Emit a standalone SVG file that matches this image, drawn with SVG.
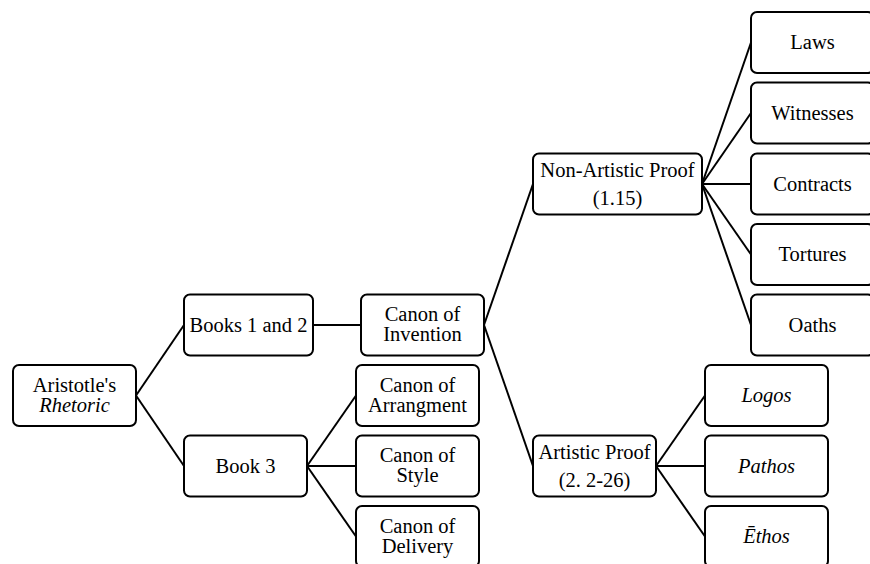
<svg xmlns="http://www.w3.org/2000/svg" width="870" height="564" viewBox="0 0 870 564">
<style>
rect.n{fill:#fff;stroke:#000;stroke-width:2}
#connectors line{stroke:#000;stroke-width:2}
</style>
<rect width="870" height="564" fill="#fff"/>
<g id="connectors">
<line x1="136" y1="395.5" x2="184" y2="325"/>
<line x1="136" y1="395.5" x2="184" y2="466"/>
<line x1="313" y1="325" x2="361" y2="325"/>
<line x1="307" y1="466" x2="356" y2="395.5"/>
<line x1="307" y1="466" x2="356" y2="466"/>
<line x1="307" y1="466" x2="356" y2="536.5"/>
<line x1="484" y1="325" x2="533" y2="184"/>
<line x1="484" y1="325" x2="533" y2="466"/>
<line x1="702" y1="184" x2="751" y2="42.5"/>
<line x1="702" y1="184" x2="751" y2="113"/>
<line x1="702" y1="184" x2="751" y2="184"/>
<line x1="702" y1="184" x2="751" y2="254.5"/>
<line x1="702" y1="184" x2="751" y2="325"/>
<line x1="656" y1="466" x2="705" y2="395.5"/>
<line x1="656" y1="466" x2="705" y2="466"/>
<line x1="656" y1="466" x2="705" y2="536.5"/>
</g>
<g font-family="Liberation Serif, DejaVu Serif, serif" font-size="20.5" text-anchor="middle" fill="#000">
<g id="aristotle"><rect class="n" x="13" y="365" width="123" height="61" rx="6"/><text x="74.5" y="391.5">Aristotle's</text><text x="74.5" y="411.5" font-style="italic">Rhetoric</text></g>
<g id="books12"><rect class="n" x="184" y="294.5" width="129" height="61" rx="6"/><text x="248.5" y="331.5">Books 1 and 2</text></g>
<g id="book3"><rect class="n" x="184" y="435.5" width="123" height="61" rx="6"/><text x="245.5" y="472.5">Book 3</text></g>
<g id="invention"><rect class="n" x="361" y="294.5" width="123" height="61" rx="6"/><text x="422.5" y="321">Canon of</text><text x="422.5" y="341">Invention</text></g>
<g id="arrangment"><rect class="n" x="356" y="365" width="123" height="61" rx="6"/><text x="417.5" y="391.5">Canon of</text><text x="417.5" y="411.5">Arrangment</text></g>
<g id="style"><rect class="n" x="356" y="435.5" width="123" height="61" rx="6"/><text x="417.5" y="462">Canon of</text><text x="417.5" y="482">Style</text></g>
<g id="delivery"><rect class="n" x="356" y="506" width="123" height="61" rx="6"/><text x="417.5" y="532.5">Canon of</text><text x="417.5" y="552.5">Delivery</text></g>
<g id="nonartistic"><rect class="n" x="533" y="153.5" width="169" height="61" rx="6"/><text x="617.5" y="176.5">Non-Artistic Proof</text><text x="617.5" y="204.5">(1.15)</text></g>
<g id="artistic"><rect class="n" x="533" y="435.5" width="123" height="61" rx="6"/><text x="594.5" y="459">Artistic Proof</text><text x="594.5" y="487">(2. 2-26)</text></g>
<g id="laws"><rect class="n" x="751" y="12" width="123" height="61" rx="6"/><text x="812.5" y="48.5">Laws</text></g>
<g id="witnesses"><rect class="n" x="751" y="82.5" width="123" height="61" rx="6"/><text x="812.5" y="119.5">Witnesses</text></g>
<g id="contracts"><rect class="n" x="751" y="153.5" width="123" height="61" rx="6"/><text x="812.5" y="190.5">Contracts</text></g>
<g id="tortures"><rect class="n" x="751" y="224" width="123" height="61" rx="6"/><text x="812.5" y="261">Tortures</text></g>
<g id="oaths"><rect class="n" x="751" y="294.5" width="123" height="61" rx="6"/><text x="812.5" y="331.5">Oaths</text></g>
<g id="logos"><rect class="n" x="705" y="365" width="123" height="61" rx="6"/><text x="766.5" y="402" font-style="italic">Logos</text></g>
<g id="pathos"><rect class="n" x="705" y="435.5" width="123" height="61" rx="6"/><text x="766.5" y="472.5" font-style="italic">Pathos</text></g>
<g id="ethos"><rect class="n" x="705" y="506" width="123" height="61" rx="6"/><text x="766.5" y="543" font-style="italic">Ēthos</text></g>
</g>
</svg>
